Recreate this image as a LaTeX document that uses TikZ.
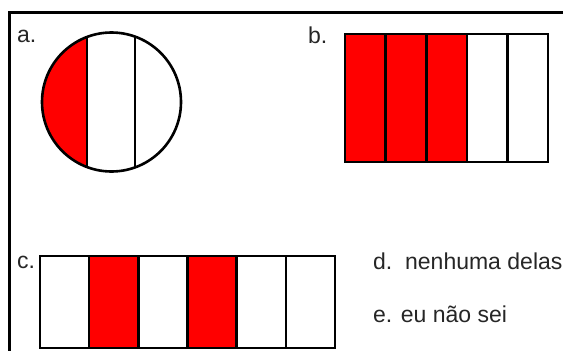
\documentclass[tikz,border=0pt]{standalone}
\usepackage{fontspec}
\setmainfont{Liberation Sans}
\begin{document}
\begin{tikzpicture}[x=1pt,y=-1pt,font=\fontsize{23}{27}\selectfont,
  outline/.style={draw=black,line width=2.6pt},
  tag/.style={anchor=base west,inner sep=0pt,text=black!85}]
\useasboundingbox (0,0) rectangle (563,351);
\clip (0,0) rectangle (563,351);
\fill[white] (0,0) rectangle (563,351);
% frame (only top and left edge are on the page)
\draw[line width=3pt] (9.5,400) -- (9.5,12.5) -- (600,12.5);
% a. circle in three strips, left one red
\begin{scope}
\clip (111.5,102) circle (69.5);
\fill[red] (0,0) rectangle (87,200);
\draw[line width=2.6pt] (87,0) -- (87,200) (135,0) -- (135,200);
\end{scope}
\draw[outline] (111.5,102) circle (69.5);
\node[tag] (la) at (17,42) {a.};
% b. five strips, three red
\foreach \i/\c in {0/red,1/red,2/red,3/white,4/white}
  \filldraw[outline,fill=\c] ({345+40.6*\i},34) rectangle ({345+40.6*(\i+1)},162);
\node[tag] (lb) at (308,43) {b.};
% c. six strips, second and fourth red
\foreach \i/\c in {0/white,1/red,2/white,3/red,4/white,5/white}
  \filldraw[outline,fill=\c] ({40+49.17*\i},256) rectangle ({40+49.17*(\i+1)},348);
\node[tag] (lc) at (17,268) {c.};
\node[tag] (optd) at (373,269) {d.~~nenhuma delas};
\node[tag] (opte) at (373,322) {e. eu não sei};
\end{tikzpicture}
\end{document}
